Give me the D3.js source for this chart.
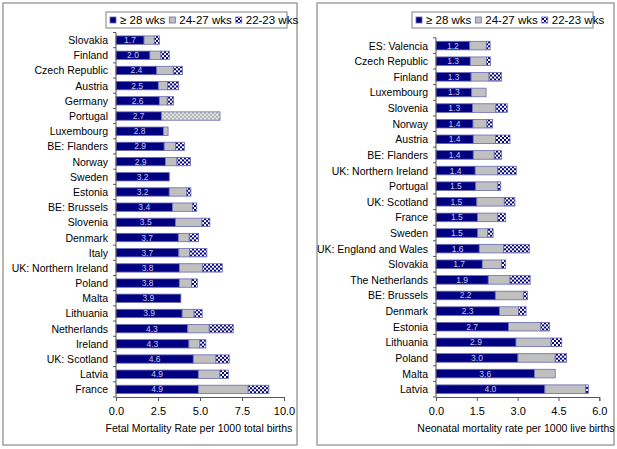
<!DOCTYPE html>
<html>
<head>
<meta charset="utf-8">
<script src="https://cdn.jsdelivr.net/npm/d3@7"></script>
<style>
  body { margin: 0; background: #fff; }
  svg text { font-family: Tahoma, "Liberation Sans", Arial, sans-serif; }
</style>
</head>
<body>
<div id="chart"></div>
<script>
const legendLabels = ["\u2265 28 wks", "24-27 wks", "22-23 wks"];

// Fetal mortality (left panel)
const fetalCountries = ["Slovakia", "Finland", "Czech Republic", "Austria", "Germany", "Portugal",
  "Luxembourg", "BE: Flanders", "Norway", "Sweden", "Estonia", "BE: Brussels", "Slovenia",
  "Denmark", "Italy", "UK: Northern Ireland", "Poland", "Malta", "Lithuania", "Netherlands",
  "Ireland", "UK: Scotland", "Latvia", "France"];
const fetal28 = [1.67, 2.02, 2.42, 2.52, 2.58, 2.70, 2.82, 2.87, 2.94, 3.17, 3.17, 3.36, 3.54,
  3.71, 3.74, 3.77, 3.77, 3.86, 3.94, 4.27, 4.34, 4.60, 4.90, 4.90];
const fetal24 = [0.61, 0.65, 0.99, 0.55, 0.47, 0, 0.28, 0.68, 0.69, 0, 1.03, 1.19, 1.58,
  0.65, 0.63, 1.39, 0.73, 0, 0.71, 1.28, 0.65, 1.35, 1.29, 2.97];
const fetal22 = [0.30, 0.50, 0.54, 0.66, 0.38, 0, 0, 0.52, 0.81, 0, 0.26, 0.26, 0.47,
  0.56, 1.04, 1.17, 0.34, 0, 0.48, 1.43, 0.36, 0.79, 0.50, 1.23];
// Portugal reports 22-27 wks as one group
const fetal22to27 = [0, 0, 0, 0, 0, 3.49, 0, 0, 0, 0, 0, 0, 0, 0, 0, 0, 0, 0, 0, 0, 0, 0, 0, 0];
const fetalTicks = [0, 2.5, 5, 7.5, 10];

// Neonatal mortality (right panel)
const neoCountries = ["ES: Valencia", "Czech Republic", "Finland", "Luxembourg", "Slovenia",
  "Norway", "Austria", "BE: Flanders", "UK: Northern Ireland", "Portugal", "UK: Scotland",
  "France", "Sweden", "UK: England and Wales", "Slovakia", "The Netherlands", "BE: Brussels",
  "Denmark", "Estonia", "Lithuania", "Poland", "Malta", "Latvia"];
const neo28 = [1.24, 1.26, 1.29, 1.31, 1.34, 1.36, 1.37, 1.37, 1.44, 1.46, 1.50, 1.53, 1.53,
  1.59, 1.70, 1.92, 2.18, 2.33, 2.66, 2.94, 3.01, 3.62, 4.00];
const neo24 = [0.61, 0.60, 0.66, 0.53, 0.86, 0.51, 0.82, 0.77, 0.83, 0.81, 1.01, 0.74, 0.37,
  0.89, 0.71, 0.80, 1.03, 0.70, 1.19, 1.29, 1.37, 0.76, 1.50];
const neo22 = [0.14, 0.14, 0.46, 0, 0.42, 0.21, 0.53, 0.27, 0.68, 0.11, 0.39, 0.29, 0.20,
  0.95, 0.15, 0.74, 0.15, 0.28, 0.32, 0.39, 0.42, 0, 0.10];
const neo22to27 = neoCountries.map(() => 0);
const neoTicks = [0, 1.5, 3, 4.5, 6];

const svg = d3.select("#chart").append("svg")
  .attr("width", 617).attr("height", 449);

const defs = svg.append("defs");
// navy/white checker for 22-23 wks
const chk = defs.append("pattern").attr("id", "chk")
  .attr("width", 4).attr("height", 4).attr("patternUnits", "userSpaceOnUse");
chk.append("rect").attr("width", 4).attr("height", 4).attr("fill", "#fff");
chk.append("rect").attr("width", 2).attr("height", 2).attr("fill", "#000080");
chk.append("rect").attr("x", 2).attr("y", 2).attr("width", 2).attr("height", 2).attr("fill", "#000080");
// light grey checker for combined 22-27
const chkGrey = defs.append("pattern").attr("id", "chkGrey")
  .attr("width", 4).attr("height", 4).attr("patternUnits", "userSpaceOnUse");
chkGrey.append("rect").attr("width", 4).attr("height", 4).attr("fill", "#e4e4e4");
chkGrey.append("rect").attr("width", 2).attr("height", 2).attr("fill", "#b4b4b4");
chkGrey.append("rect").attr("x", 2).attr("y", 2).attr("width", 2).attr("height", 2).attr("fill", "#b4b4b4");

const fills = ["#000080", "#c0c0c0", "url(#chk)", "url(#chkGrey)"];

function drawPanel(p) {
  const g = svg.append("g");

  // frame
  g.append("rect")
    .attr("x", p.frame[0]).attr("y", p.frame[1])
    .attr("width", p.frame[2]).attr("height", p.frame[3])
    .attr("fill", "#fff").attr("stroke", "#a0a0a0").attr("stroke-width", 1.5);

  const x = d3.scaleLinear().domain(p.domain).range(p.xRange);
  const y = d3.scaleBand().domain(p.countries).range(p.yRange).paddingInner(0.45).paddingOuter(0.225);

  const rows = p.countries.map((c, i) => {
    const vals = [p.s28[i], p.s24[i], p.s22[i], p.s2227[i]];
    let acc = 0;
    const segs = [];
    // order: >=28, 24-27, combined 22-27, 22-23
    [0, 1, 3, 2].forEach(k => {
      if (vals[k] > 0) {
        segs.push({ k, x0: acc, x1: acc + vals[k] });
        acc += vals[k];
      }
    });
    return { c, v: p.s28[i], segs };
  });

  const bars = g.selectAll(".row").data(rows).enter().append("g")
    .attr("transform", d => `translate(0,${y(d.c)})`);

  bars.selectAll("rect").data(d => d.segs).enter().append("rect")
    .attr("x", s => x(s.x0))
    .attr("width", s => x(s.x1) - x(s.x0))
    .attr("height", y.bandwidth())
    .attr("fill", s => fills[s.k])
    .attr("stroke", "#6a6ab4").attr("stroke-width", 0.8);

  bars.append("text")
    .attr("x", d => (x(0) + x(d.v)) / 2)
    .attr("y", y.bandwidth() / 2 + 3)
    .attr("text-anchor", "middle")
    .attr("font-size", 8.5)
    .attr("fill", "#c8c8ec")
    .text(d => d3.format(".1f")(d.v));

  // y axis: line + ticks at band boundaries
  const yAxis = g.append("g");
  yAxis.append("line")
    .attr("x1", x(0)).attr("x2", x(0))
    .attr("y1", p.yRange[0]).attr("y2", p.yRange[1])
    .attr("stroke", "#555");
  const step = y.step();
  d3.range(p.countries.length + 1).forEach(i => {
    const yy = p.yRange[0] + i * step;
    yAxis.append("line").attr("x1", x(0) - 3).attr("x2", x(0))
      .attr("y1", yy).attr("y2", yy).attr("stroke", "#555");
  });
  yAxis.selectAll(".cat").data(p.countries).enter().append("text")
    .attr("x", x(0) - 8)
    .attr("y", d => y(d) + y.bandwidth() / 2 + 4)
    .attr("text-anchor", "end")
    .attr("font-size", 10.5)
    .attr("fill", "#000")
    .text(d => d);

  // x axis
  const xAxis = g.append("g").attr("transform", `translate(0,${p.yRange[1]})`)
    .call(d3.axisBottom(x).tickValues(p.ticks).tickFormat(d3.format(".1f")).tickSize(4).tickPadding(6));
  xAxis.select(".domain").attr("stroke", "#555");
  xAxis.selectAll(".tick line").attr("stroke", "#555");
  xAxis.selectAll(".tick text")
    .attr("font-size", 11).attr("fill", "#000")
    .style("font-family", "Tahoma, 'Liberation Sans', Arial, sans-serif");

  g.append("text")
    .attr("x", p.titleX).attr("y", 432)
    .attr("text-anchor", "middle")
    .attr("font-size", 10.5)
    .text(p.title);

  // legend
  const lg = g.append("g");
  lg.append("rect")
    .attr("x", p.legend[0]).attr("y", p.legend[1])
    .attr("width", p.legend[2]).attr("height", p.legend[3])
    .attr("fill", "#fff").attr("stroke", "#808080");
  let lx = p.legend[0] + 4;
  legendLabels.forEach((lab, i) => {
    lg.append("rect")
      .attr("x", lx).attr("y", p.legend[1] + 5)
      .attr("width", 6).attr("height", 6)
      .attr("fill", fills[i]).attr("stroke", "#6a6ab4").attr("stroke-width", 0.8);
    const t = lg.append("text")
      .attr("x", lx + 10).attr("y", p.legend[1] + 12)
      .attr("font-size", 11.5)
      .text(lab);
    lx += 10 + t.node().getComputedTextLength() + 4;
  });
}

drawPanel({
  frame: [3, 3, 294, 442],
  legend: [106, 12, 181, 16],
  countries: fetalCountries,
  s28: fetal28, s24: fetal24, s22: fetal22, s2227: fetal22to27,
  domain: [0, 10], xRange: [116, 284],
  yRange: [32.5, 397],
  ticks: fetalTicks,
  titleX: 199,
  title: "Fetal Mortality Rate per 1000 total births"
});

drawPanel({
  frame: [317, 3, 297, 442],
  legend: [412, 12, 181, 16],
  countries: neoCountries,
  s28: neo28, s24: neo24, s22: neo22, s2227: neo22to27,
  domain: [0, 6], xRange: [436, 599.3],
  yRange: [37.8, 397],
  ticks: neoTicks,
  titleX: 516,
  title: "Neonatal mortality rate per 1000 live births"
});
</script>
</body>
</html>
